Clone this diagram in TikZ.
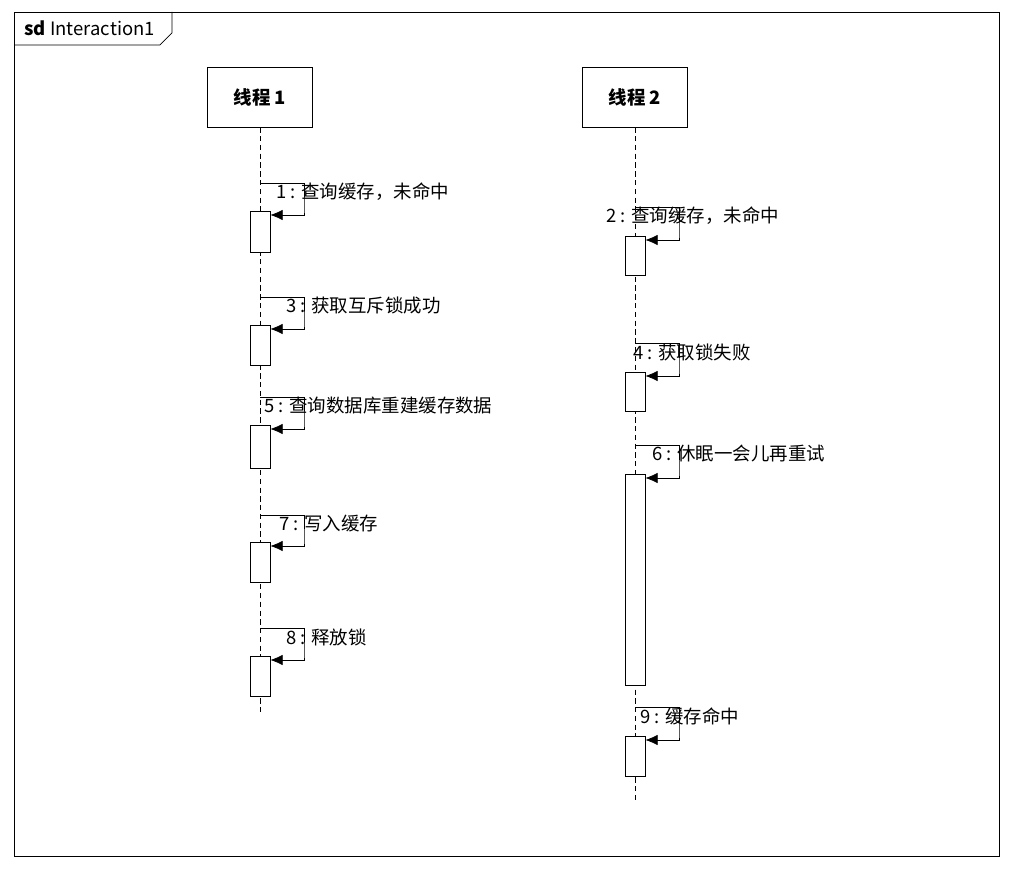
\documentclass[tikz,border=0pt]{standalone}
\usepackage{fontspec}
\setmainfont{Noto Sans CJK SC}
\usetikzlibrary{arrows.meta,positioning}
\begin{document}
\begin{tikzpicture}[x=0.02cm,y=-0.02cm, thick,
  every node/.style={font=\fontsize{10.5}{12}\selectfont},
  head/.style={draw,thin,minimum width=2.1cm,minimum height=1.2cm,font=\fontsize{10.5}{12}\selectfont\bfseries,fill=white},
  act/.style={draw,thin,fill=white,minimum width=0.4cm,inner sep=0pt},
  life/.style={thin,densely dashed},
  call/.style={thin,-{Latex[length=7pt,width=6pt]}}]
\useasboundingbox (0,0) rectangle (1022,874);
\draw[thin] (14,12) rectangle (999,856);
\draw[thin] (14,45) -- (160,45) -- (172,33) -- (172,12);
\node[anchor=west] (sd) at (18,28) {\textbf{sd}\ Interaction1};

% lifelines
\node[head] (t1) at (260,97) {线程 1};
\node[head] (t2) at (635,97) {线程 2};
\coordinate (e1) at (260,712);
\coordinate (e2) at (635,800);
\draw[life] (t1) -- (e1);
\draw[life] (t2) -- (e2);

% self calls: name / lifeline x / top / act top / act bottom / label x / label
\foreach \n/\lx/\ty/\at/\ab/\tx/\txt in {
  1/260/183/211/252/274/{1 : 查询缓存，未命中},
  2/635/207/236/275/604/{2 : 查询缓存，未命中},
  3/260/297/325/365/284/{3 : 获取互斥锁成功},
  4/635/343/372/411/631/{4 : 获取锁失败},
  5/260/397/425/468/262/{5 : 查询数据库重建缓存数据},
  6/635/445/474/685/650/{6 : 休眠一会儿再重试},
  7/260/515/542/582/277/{7 : 写入缓存},
  8/260/628/656/696/284/{8 : 释放锁},
  9/635/707/736/776/638/{9 : 缓存命中}}{
  \node[act,minimum height={(\ab-\at)*0.02cm},anchor=north] (act\n) at (\lx,\at) {};
  \coordinate (s\n) at (\lx,\ty);
  \coordinate (k\n) at (\lx+44,\ty);
  \draw[call] (s\n) -- (k\n) -- (k\n |- act\n.north east) -- ++(0,4) coordinate (m\n) -- (act\n.east |- m\n);
  \node[anchor=west,inner sep=1pt] (lab\n) at (\tx,\ty+9) {\txt};
}
\end{tikzpicture}
\end{document}
